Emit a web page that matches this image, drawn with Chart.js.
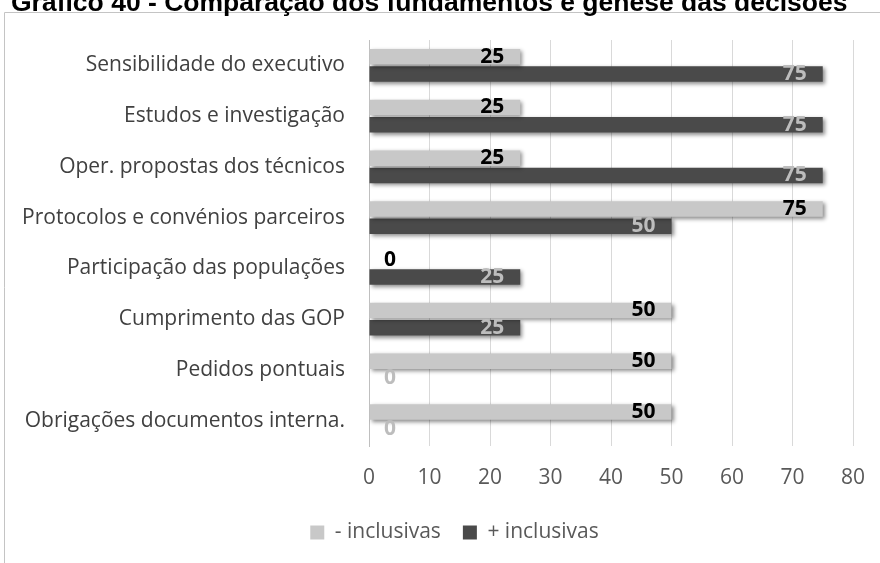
<!DOCTYPE html>
<html>
<head>
<meta charset="utf-8">
<script src="https://cdn.jsdelivr.net/npm/chart.js@4.4.0/dist/chart.umd.min.js"></script>
<style>
  html, body { margin: 0; padding: 0; background: #fff; overflow: hidden; }
  #wrap { position: relative; width: 880px; height: 563px; }
  #titulo { position: absolute; left: 11px; top: -11px; font: bold 26.5px 'Liberation Sans', Arial, sans-serif; line-height: 26.5px; white-space: nowrap; color: #000; z-index: 2; }
  canvas { position: absolute; left: 0; top: 0; }
</style>
</head>
<body>
<div id="wrap">
  <div id="titulo">Gráfico 40 - Comparação dos fundamentos e génese das decisões</div>
  <canvas id="grafico" width="880" height="563"></canvas>
</div>
<script>
var categorias = ['Sensibilidade do executivo', 'Estudos e investigação', 'Oper. propostas dos técnicos', 'Protocolos e convénios parceiros', 'Participação das populações', 'Cumprimento das GOP', 'Pedidos pontuais', 'Obrigações documentos interna.'];
var menosInclusivas = [25, 25, 25, 75, 0, 50, 50, 50];
var maisInclusivas = [75, 75, 75, 50, 25, 25, 0, 0];
var eixoX = [0, 10, 20, 30, 40, 50, 60, 70, 80];

var cinzaClaro = '#c8c8c8';
var cinzaEscuro = '#4a4a4a';

Chart.defaults.font.family = "'Open Sans', sans-serif";

// moldura cinzenta (esquerda e topo)
var moldura = {
    id: 'moldura',
    beforeDraw: function(chart){
        var c = chart.ctx;
        c.save();
        c.strokeStyle = '#c4c4c4';
        c.lineWidth = 1;
        c.beginPath();
        c.moveTo(4.5, 563);
        c.lineTo(4.5, 12.5);
        c.lineTo(880, 12.5);
        c.stroke();
        c.restore();
    }
};

// legenda um pouco à direita, como no original
var legendaDireita = {
    id: 'legendaDireita',
    afterLayout: function(chart){
        chart.legend.left += 28;
        chart.legend.right += 28;
    }
};

// sombra das barras
var sombra = {
    id: 'sombra',
    beforeDatasetsDraw: function(chart){
        var c = chart.ctx;
        c.save();
        c.shadowColor = 'rgba(0,0,0,0.45)';
        c.shadowBlur = 4;
        c.shadowOffsetX = 2;
        c.shadowOffsetY = 2;
    },
    afterDatasetsDraw: function(chart){
        chart.ctx.restore();
    }
};

// valores sobre as barras
var rotulos = {
    id: 'rotulos',
    afterDatasetsDraw: function(chart){
        var c = chart.ctx;
        c.save();
        c.font = "bold 21px 'Open Sans', sans-serif";
        c.textBaseline = 'middle';
        chart.data.datasets.forEach(function(ds, i){
            var meta = chart.getDatasetMeta(i);
            meta.data.forEach(function(bar, j){
                var v = ds.data[j];
                c.fillStyle = i === 0 ? '#000' : '#bdbdbd';
                if (v > 0) {
                    c.textAlign = 'right';
                    c.fillText(v, bar.x - 16, bar.y);
                } else {
                    c.textAlign = 'left';
                    c.fillText(v, bar.base + 15, bar.y);
                }
            });
        });
        c.restore();
    }
};

new Chart(document.getElementById('grafico').getContext('2d'), {
    type: 'bar',
    data: {
        labels: categorias,
        datasets: [{
            label: '- inclusivas',
            data: menosInclusivas,
            backgroundColor: cinzaClaro,
            borderWidth: 0,
            categoryPercentage: 0.68,
            barPercentage: 0.9
        }, {
            label: '+ inclusivas',
            data: maisInclusivas,
            backgroundColor: cinzaEscuro,
            borderWidth: 0,
            categoryPercentage: 0.68,
            barPercentage: 0.9
        }]
    },
    options: {
        indexAxis: 'y',
        responsive: false,
        animation: false,
        layout: {
            padding: { top: 40, right: 27, bottom: 10, left: 0 }
        },
        plugins: {
            legend: {
                position: 'bottom',
                labels: {
                    boxWidth: 14,
                    boxHeight: 14,
                    padding: 22,
                    color: '#595959',
                    font: { size: 21 }
                }
            },
            tooltip: { enabled: false }
        },
        scales: {
            x: {
                min: eixoX[0],
                max: eixoX[eixoX.length - 1],
                ticks: {
                    stepSize: eixoX[1] - eixoX[0],
                    color: '#595959',
                    padding: 19,
                    font: { size: 21 }
                },
                grid: { color: '#d9d9d9', drawTicks: false },
                border: { display: false },
                afterFit: function(scale){
                    scale.height = 54;
                    scale.paddingLeft = 0;
                    scale.paddingRight = 0;
                }
            },
            y: {
                ticks: {
                    color: '#404040',
                    padding: 24,
                    font: { size: 21 }
                },
                grid: { display: false, drawTicks: false },
                border: { display: true, color: '#bfbfbf' },
                afterFit: function(scale){ scale.width = 369; }
            }
        }
    },
    plugins: [moldura, legendaDireita, sombra, rotulos]
});
</script>
</body>
</html>
